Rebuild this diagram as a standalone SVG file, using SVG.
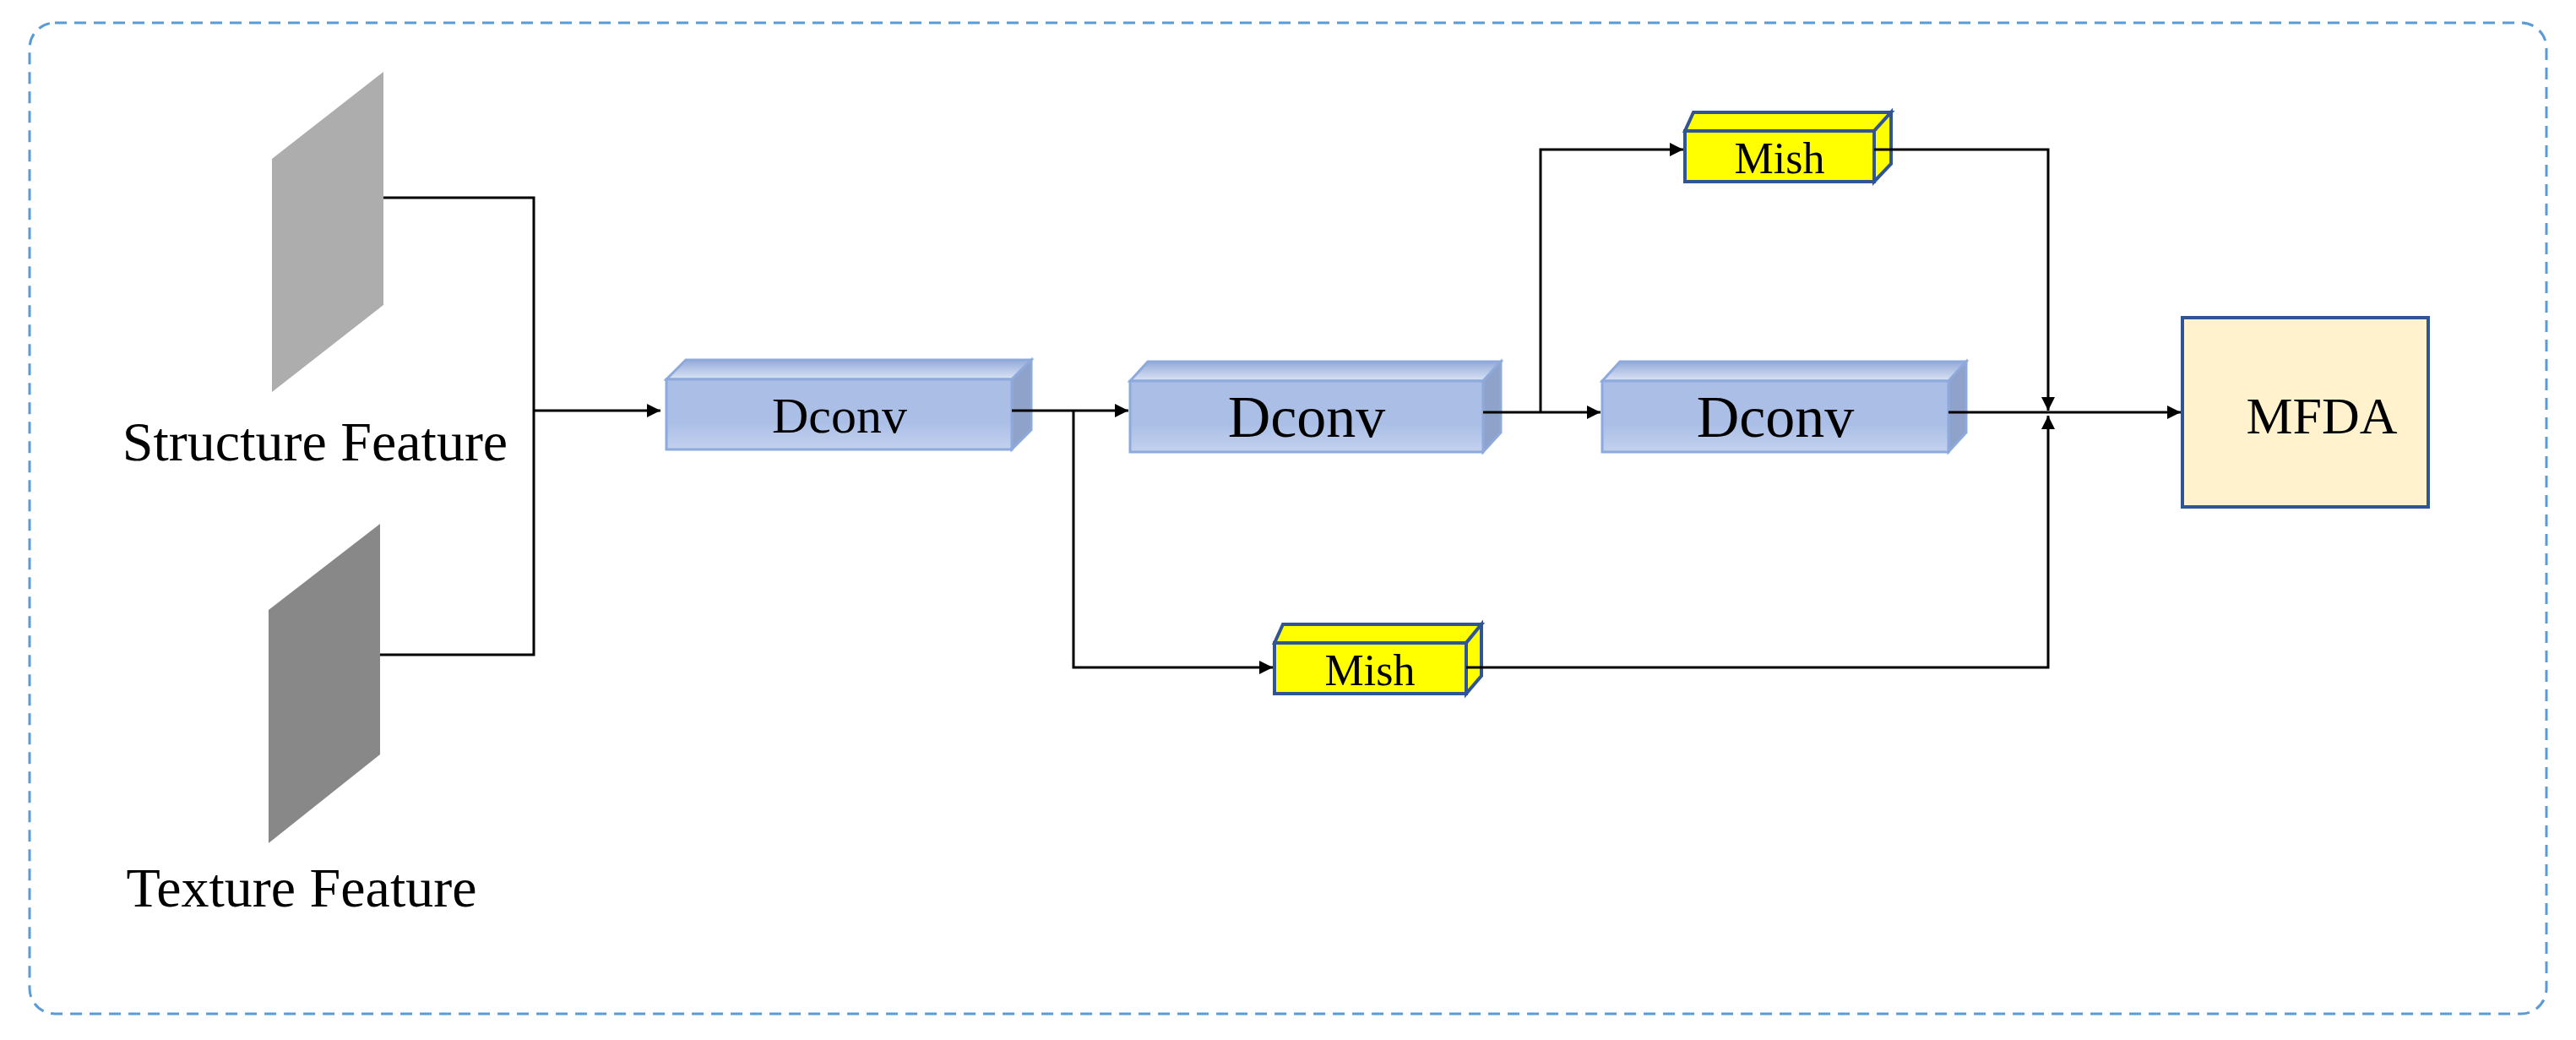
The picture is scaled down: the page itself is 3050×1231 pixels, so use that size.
<svg xmlns="http://www.w3.org/2000/svg" width="3050" height="1231" viewBox="0 0 3050 1231">
<defs>
<style>
.t{font-family:"Liberation Serif","Times New Roman",serif;fill:#000;text-anchor:middle}
.ln{fill:none;stroke:#000;stroke-width:3}
.df{fill:url(#gd);stroke:#8EA9DB;stroke-width:3}
.dt{fill:url(#gt);stroke:#8EA9DB;stroke-width:3}
.dr{fill:#8FA2C9;stroke:#8EA9DB;stroke-width:3}
.mf{fill:#FFFF00;stroke:#2F5597;stroke-width:4}
</style>
<linearGradient id="gd" x1="0" y1="0" x2="0" y2="1"><stop offset="0" stop-color="#AABEE6"/><stop offset="0.6" stop-color="#AABEE6"/><stop offset="1" stop-color="#C3D1EE"/></linearGradient>
<linearGradient id="gt" x1="0" y1="0" x2="0" y2="1"><stop offset="0" stop-color="#93AAD8"/><stop offset="1" stop-color="#DCE4F5"/></linearGradient>
<marker id="a" viewBox="0 0 10 10" refX="10" refY="5" markerWidth="7" markerHeight="7" orient="auto" markerUnits="userSpaceOnUse"><path d="M0,0L10,5L0,10z" fill="#000"/></marker>
<marker id="ab" viewBox="0 0 10 10" refX="10" refY="5" markerWidth="16" markerHeight="16" orient="auto" markerUnits="userSpaceOnUse"><path d="M0,0L10,5L0,10z" fill="#000"/></marker>
</defs>
<rect x="35" y="27" width="2980" height="1173" rx="30" fill="none" stroke="#5B9BD5" stroke-width="3" stroke-dasharray="14,9"/>
<g id="structure"><polygon points="322,188 454,85 454,361 322,464" fill="#ADADAD"/><text class="t" x="373" y="545" font-size="66">Structure Feature</text></g>
<g id="texture"><polygon points="318,722 450,620 450,893 318,998" fill="#888888"/><text class="t" x="357" y="1073" font-size="66">Texture Feature</text></g>
<g id="dconv1"><polygon class="dt" points="789,449 812,426 1221,426 1198,449"/><polygon class="dr" points="1198,449 1221,426 1221,509 1198,532"/><rect class="df" x="789" y="449" width="409" height="83"/><text class="t" x="994" y="512" font-size="60">Dconv</text></g>
<g id="dconv2"><polygon class="dt" points="1338,451 1359,428 1777,428 1756,451"/><polygon class="dr" points="1756,451 1777,428 1777,512 1756,535"/><rect class="df" x="1338" y="451" width="418" height="84"/><text class="t" x="1547" y="517" font-size="70">Dconv</text></g>
<g id="dconv3"><polygon class="dt" points="1897,451 1918,428 2328,428 2307,451"/><polygon class="dr" points="2307,451 2328,428 2328,512 2307,535"/><rect class="df" x="1897" y="451" width="410" height="84"/><text class="t" x="2102" y="517" font-size="70">Dconv</text></g>
<g id="mish1"><polygon class="mf" points="1995,155 2005,133 2239,133 2219,155"/><polygon class="mf" points="2219,155 2239,133 2239,194 2219,215"/><rect class="mf" x="1995" y="155" width="224" height="60"/><text class="t" x="2107" y="205" font-size="52">Mish</text></g>
<g id="mish2"><polygon class="mf" points="1509,761 1519,739 1754,739 1736,761"/><polygon class="mf" points="1736,761 1754,739 1754,800 1736,821"/><rect class="mf" x="1509" y="761" width="227" height="60"/><text class="t" x="1622" y="811" font-size="52">Mish</text></g>
<g id="mfda"><rect x="2584" y="376" width="291" height="224" fill="#FFF2CC" stroke="#2F5597" stroke-width="4"/><text class="t" x="2749" y="513" font-size="62">MFDA</text></g>
<g id="connectors">
<path class="ln" d="M454,234H632V775H450"/>
<path class="ln" d="M632,486H782" marker-end="url(#ab)"/>
<path class="ln" d="M1198,486H1336" marker-end="url(#ab)"/>
<path class="ln" d="M1271,486V790H1507" marker-end="url(#ab)"/>
<path class="ln" d="M1756,488H1895" marker-end="url(#ab)"/>
<path class="ln" d="M1824,488V177H1993" marker-end="url(#ab)"/>
<path class="ln" d="M2219,177H2425V486" marker-end="url(#ab)"/>
<path class="ln" d="M1736,790H2425V492" marker-end="url(#ab)"/>
<path class="ln" d="M2307,488H2582" marker-end="url(#ab)"/>
</g>
</svg>
